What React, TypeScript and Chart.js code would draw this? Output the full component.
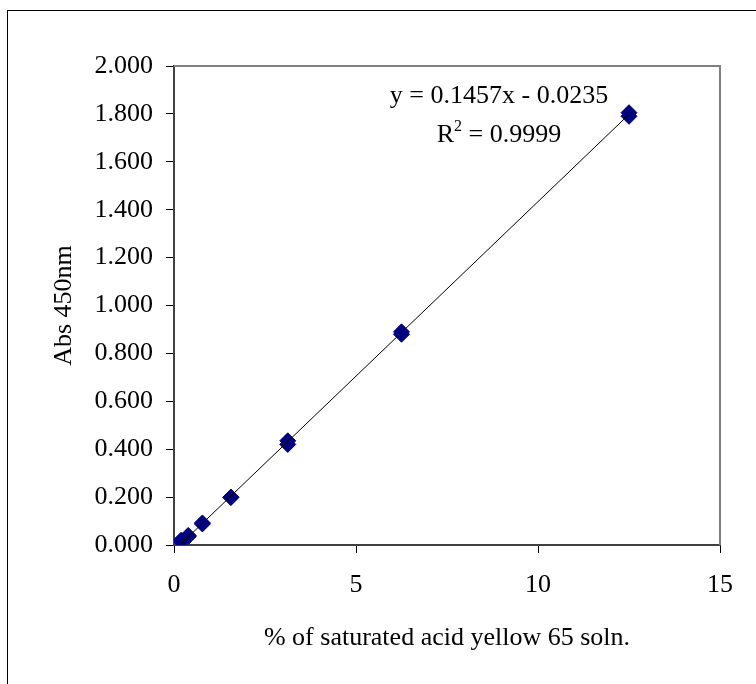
import React, { useEffect, useRef } from "react";
import { Chart, registerables } from "chart.js";

Chart.register(...registerables);

const concX = [0.195, 0.195, 0.39, 0.39, 0.78, 0.78, 1.5625, 1.5625, 3.125, 3.125, 6.25, 6.25, 12.5, 12.5];
const absY = [0.015, 0.02, 0.035, 0.04, 0.088, 0.092, 0.2, 0.198, 0.435, 0.42, 0.89, 0.88, 1.805, 1.79];
const trendX = [0.195, 12.5];
const trendY = [0.005, 1.798];
const equationText = "y = 0.1457x - 0.0235";
const r2Value = " = 0.9999";
const xTitle = "% of saturated acid yellow 65 soln.";
const yTitle = "Abs 450nm";

const FONT = "'Liberation Serif', 'Times New Roman', serif";

const framePlugin = {
  id: "frame",
  beforeDatasetsDraw(chart: any) {
    const { ctx, chartArea } = chart;
    ctx.save();
    ctx.strokeStyle = "#808080";
    ctx.lineWidth = 2;
    ctx.beginPath();
    ctx.moveTo(chartArea.left, chartArea.top);
    ctx.lineTo(chartArea.right, chartArea.top);
    ctx.lineTo(chartArea.right, chartArea.bottom);
    ctx.stroke();
    ctx.restore();
  },
  afterDraw(chart: any) {
    const { ctx, chartArea } = chart;
    ctx.save();
    // outer chart border
    ctx.strokeStyle = "#000";
    ctx.lineWidth = 1;
    ctx.strokeRect(7.5, 10.5, 900, 900);
    // equation labels
    const cx = chartArea.left + (chartArea.right - chartArea.left) * 0.5952;
    ctx.fillStyle = "#000";
    ctx.textBaseline = "alphabetic";
    ctx.textAlign = "left";
    ctx.font = `26px ${FONT}`;
    const w1 = ctx.measureText(equationText).width;
    ctx.fillText(equationText, cx - w1 / 2, chartArea.top + 37);
    const wR = ctx.measureText("R").width;
    const wRest = ctx.measureText(r2Value).width;
    ctx.font = `16px ${FONT}`;
    const wSup = ctx.measureText("2").width;
    const total = wR + wSup + wRest;
    const x0 = cx - total / 2;
    const by = chartArea.top + 76;
    ctx.font = `26px ${FONT}`;
    ctx.fillText("R", x0, by);
    ctx.font = `16px ${FONT}`;
    ctx.fillText("2", x0 + wR, by - 11);
    ctx.font = `26px ${FONT}`;
    ctx.fillText(r2Value, x0 + wR + wSup, by);
    ctx.restore();
  },
};

export default function App() {
  const ref = useRef<HTMLCanvasElement>(null);
  useEffect(() => {
    if (!ref.current) return;
    const chart = new Chart(ref.current, {
      type: "scatter",
      data: {
        datasets: [
          {
            type: "line",
            data: trendX.map((x, i) => ({ x, y: trendY[i] })),
            borderColor: "#000",
            borderWidth: 1,
            pointRadius: 0,
            fill: false,
            order: 0,
          } as any,
          {
            data: concX.map((x, i) => ({ x, y: absY[i] })),
            pointStyle: "rectRot",
            pointRadius: 8,
            backgroundColor: "#000080",
            borderColor: "#000080",
            borderWidth: 1,
            order: 1,
          },
        ],
      },
      plugins: [framePlugin],
      options: {
        animation: false,
        responsive: false,
        maintainAspectRatio: false,
        layout: { padding: { left: 0, top: 66, right: 36, bottom: 0 } },
        plugins: { legend: { display: false }, tooltip: { enabled: false } },
        scales: {
          x: {
            type: "linear",
            min: 0,
            max: 15,
            ticks: { stepSize: 5, color: "#000", font: { family: FONT, size: 26 }, padding: 17 },
            grid: { drawOnChartArea: false, drawTicks: true, tickLength: 8, color: "#000", lineWidth: 1 },
            border: { display: true, color: "#404040", width: 2 },
            title: { display: true, text: xTitle, color: "#000", font: { family: FONT, size: 26 }, padding: { top: 0, bottom: 30 } },
            afterFit(s: any) {
              s.height = 139;
            },
          },
          y: {
            type: "linear",
            min: 0,
            max: 2,
            ticks: {
              stepSize: 0.2,
              color: "#000",
              font: { family: FONT, size: 26 },
              padding: 13,
              callback: (v: any) => Number(v).toFixed(3),
            },
            grid: { drawOnChartArea: false, drawTicks: true, tickLength: 8, color: "#000", lineWidth: 1 },
            border: { display: true, color: "#404040", width: 2 },
            title: { display: true, text: yTitle, color: "#000", font: { family: FONT, size: 26 }, padding: { top: 49, bottom: 0 } },
            afterFit(s: any) {
              s.width = 174;
            },
          },
        },
      },
    });
    return () => chart.destroy();
  }, []);
  return (
    <canvas
      ref={ref}
      width={756}
      height={684}
      style={{ position: "fixed", left: 0, top: 0, width: 756, height: 684, display: "block", background: "#fff" }}
    />
  );
}
